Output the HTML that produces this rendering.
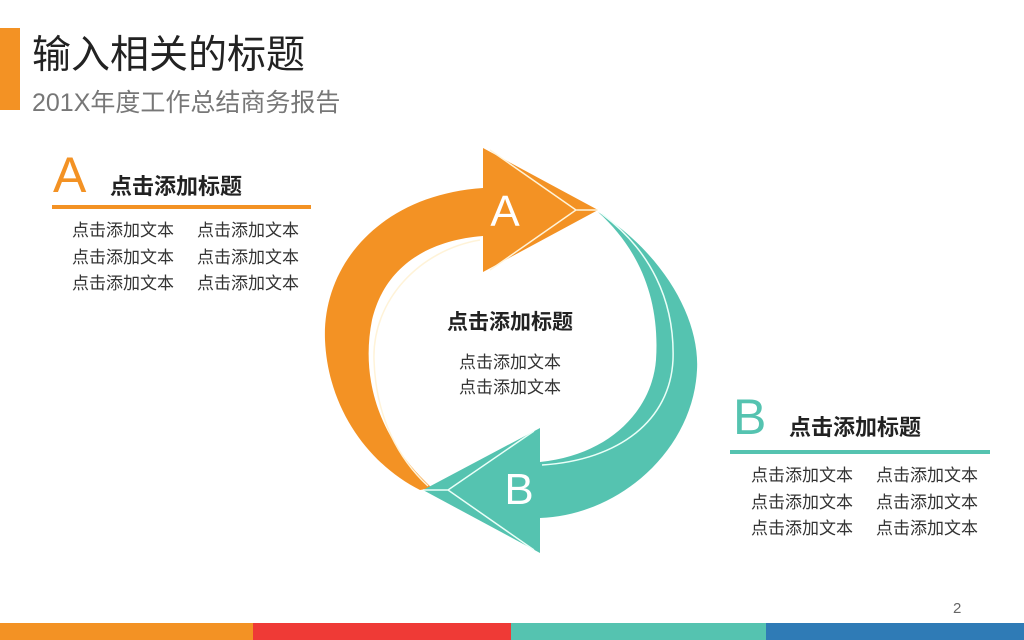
<!DOCTYPE html>
<html><head><meta charset="utf-8"><style>
body{margin:0;width:1024px;height:640px;background:#fff;position:relative;overflow:hidden;font-family:"Liberation Sans","Noto Sans CJK SC",sans-serif;color:#333}
.t{position:absolute;white-space:nowrap}
</style></head><body>
<div style="position:absolute;left:0;top:28px;width:20px;height:82px;background:#f39224"></div>
<div class="t" style="left:32px;top:24px;font-size:39px;color:#222">输入相关的标题</div>
<div class="t" style="left:32px;top:83px;font-size:25px;color:#777">201X年度工作总结商务报告</div>

<div class="t" style="left:53px;top:146px;font-size:50px;color:#f39224;font-weight:300">A</div>
<div class="t" style="left:110px;top:169px;font-size:22px;font-weight:bold;color:#222">点击添加标题</div>
<div class="t" style="left:72px;top:218px;font-size:17px;line-height:26.5px">点击添加文本<br>点击添加文本<br>点击添加文本</div>
<div class="t" style="left:197px;top:218px;font-size:17px;line-height:26.5px">点击添加文本<br>点击添加文本<br>点击添加文本</div>
<div style="position:absolute;left:52px;top:205px;width:259px;height:4px;background:#f39224"></div>

<div class="t" style="left:733px;top:388px;font-size:50px;color:#55c3b0;font-weight:300">B</div>
<div class="t" style="left:789px;top:410px;font-size:22px;font-weight:bold;color:#222">点击添加标题</div>
<div style="position:absolute;left:730px;top:450px;width:260px;height:4px;background:#55c3b0"></div>
<div class="t" style="left:751px;top:463px;font-size:17px;line-height:26.5px">点击添加文本<br>点击添加文本<br>点击添加文本</div>
<div class="t" style="left:876px;top:463px;font-size:17px;line-height:26.5px">点击添加文本<br>点击添加文本<br>点击添加文本</div>

<svg style="position:absolute;left:0;top:0" width="1024" height="640">
<path d="M483,188 C380,195 322,265 325,340 C328,410 370,465 420,490 L432,488 C380,440 360,380 372,320 C385,265 430,240 483,236 Z" fill="#f39224"/>
<path d="M480,240 C420,250 372,300 374,360 C376,420 400,460 428,486" fill="none" stroke="#fff3d8" stroke-width="1.5"/>
<path d="M483,148 L598,210 L483,272 Z" fill="#f39224"/>
<path d="M490,150 L576,210 L490,270 M576,210 L598,210" fill="none" stroke="#fff3d8" stroke-width="1.5"/>
<path d="M598,212 C665,255 700,320 697,370 C693,450 620,515 540,518 L540,462 C610,455 652,410 656,360 C660,300 640,250 598,212 Z" fill="#55c3b0"/>
<path d="M602,214 C650,250 675,300 673,360 C670,420 620,460 542,465" fill="none" stroke="#eafff8" stroke-width="1.5"/>
<path d="M540,428 L423,490 L540,553 Z" fill="#55c3b0"/>
<path d="M534,431 L448,490 L534,550 M448,490 L423,490" fill="none" stroke="#eafff8" stroke-width="1.5"/>
<text x="505" y="226" font-size="44" fill="#fff" text-anchor="middle" font-family="Liberation Sans" font-weight="300">A</text>
<text x="519" y="504" font-size="44" fill="#fff" text-anchor="middle" font-family="Liberation Sans" font-weight="300">B</text>
</svg>

<div class="t" style="left:430px;top:306px;width:160px;text-align:center;font-size:21px;font-weight:bold;color:#222">点击添加标题</div>
<div class="t" style="left:430px;top:350px;width:160px;text-align:center;font-size:17px;line-height:25px">点击添加文本<br>点击添加文本</div>

<div class="t" style="left:953px;top:600px;font-size:15px;color:#666">2</div>
<div style="position:absolute;left:0;top:623px;width:253px;height:17px;background:#f39224"></div>
<div style="position:absolute;left:253px;top:623px;width:258px;height:17px;background:#ef3a36"></div>
<div style="position:absolute;left:511px;top:623px;width:255px;height:17px;background:#55c3b0"></div>
<div style="position:absolute;left:766px;top:623px;width:258px;height:17px;background:#2f7bb6"></div>
</body></html>
